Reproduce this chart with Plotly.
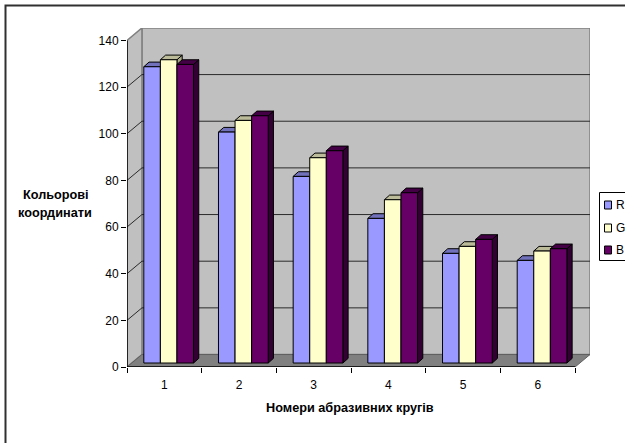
import plotly.graph_objects as go

# Chart data
categories = ["1", "2", "3", "4", "5", "6"]
series_r = [127, 99, 80, 62, 47, 44]
series_g = [130, 104, 88, 70, 50, 48]
series_b = [128, 106, 91, 73, 53, 49]
y_ticks = [0, 20, 40, 60, 80, 100, 120, 140]

# Pseudo-3D geometry, in axis units
DEPTH_X, DEPTH_Y = 0.2, 5.35      # offset of the back wall from the axis plane
BAR_DX, BAR_DY = 0.07, 2.0        # thickness of the bar sides
BASE_X, BASE_Y = 0.225, 1.7       # bar group start and lift above the axis
BAR_W = 0.222
N = len(categories)

L, T, W, H = 127, 28, 463, 339   # plot box in page pixels
px_per_unit = (367.3 - 40.7) / 140
y_top = H / px_per_unit

series = [
    ("R", series_r, "#9999FF", "#7070BB", "#6666AA"),
    ("G", series_g, "#FFFFCC", "#BBBB99", "#AAAA88"),
    ("B", series_b, "#660066", "#440044", "#330033"),
]


def poly(xs, ys, fill, line="#000000", width=1):
    return go.Scatter(x=xs, y=ys, mode="lines", fill="toself", fillcolor=fill,
                      line=dict(color=line, width=width), hoverinfo="skip",
                      showlegend=False)


fig = go.Figure()

# Walls and floor
fig.add_trace(poly([DEPTH_X, N + DEPTH_X, N + DEPTH_X, DEPTH_X, DEPTH_X],
                   [DEPTH_Y, DEPTH_Y, 140 + DEPTH_Y, 140 + DEPTH_Y, DEPTH_Y],
                   "#C0C0C0", "#808080", 1.5))
fig.add_trace(poly([0, DEPTH_X, DEPTH_X, 0, 0],
                   [0, DEPTH_Y, 140 + DEPTH_Y, 140, 0],
                   "#C0C0C0", "#808080", 1.5))
fig.add_trace(poly([0, N, N + DEPTH_X, DEPTH_X, 0],
                   [0, 0, DEPTH_Y, DEPTH_Y, 0],
                   "#808080", "#606060", 1))

# Gridlines run along the left wall and across the back wall
grid_x, grid_y = [], []
for v in y_ticks[1:-1]:
    grid_x += [0, DEPTH_X, N + DEPTH_X, None]
    grid_y += [v, v + DEPTH_Y, v + DEPTH_Y, None]
fig.add_trace(go.Scatter(x=grid_x, y=grid_y, mode="lines", hoverinfo="skip",
                         line=dict(color="#2A2A2A", width=1), showlegend=False))

# Bars are painted series by series so later bars cover earlier sides
for s_idx, (name, values, front, top, side) in enumerate(series):
    fx, fy, tx, ty, sx, sy = [], [], [], [], [], []
    for i, v in enumerate(values):
        x0 = i + BASE_X + s_idx * BAR_W
        x1 = x0 + BAR_W
        y0 = BASE_Y
        y1 = v + BASE_Y
        fx += [x0, x1, x1, x0, x0, None]
        fy += [y0, y0, y1, y1, y0, None]
        tx += [x0, x1, x1 + BAR_DX, x0 + BAR_DX, x0, None]
        ty += [y1, y1, y1 + BAR_DY, y1 + BAR_DY, y1, None]
        sx += [x1, x1 + BAR_DX, x1 + BAR_DX, x1, x1, None]
        sy += [y0, y0 + BAR_DY, y1 + BAR_DY, y1, y0, None]
    fig.add_trace(poly(sx, sy, side))
    fig.add_trace(poly(tx, ty, top))
    fig.add_trace(poly(fx, fy, front))

# Value axis line and the base line of the category axis
fig.add_trace(go.Scatter(x=[0, 0, N], y=[140, 0, 0], mode="lines", hoverinfo="skip",
                         line=dict(color="#000000", width=1.5), showlegend=False,
                         cliponaxis=False))

shapes = [
    # Outer chart frame, open past the page edges on the right and bottom
    dict(type="rect", xref="paper", yref="paper",
         x0=(5.5 - L) / W, x1=(660 - L) / W, y0=(T + H - 470) / H, y1=(T + H - 5.5) / H,
         line=dict(color="#303030", width=2), layer="below"),
    # Legend box
    dict(type="rect", xref="paper", yref="paper",
         x0=(599.5 - L) / W, x1=(660 - L) / W, y0=(T + H - 260.5) / H, y1=(T + H - 192.5) / H,
         line=dict(color="#000000", width=1), fillcolor="#FFFFFF"),
]

annotations = [
    dict(text="<b>Кольорові</b>", xref="paper", yref="paper",
         x=(56 - L) / W, y=(T + H - 195) / H, showarrow=False,
         xanchor="center", yanchor="middle", font=dict(size=12.7)),
    dict(text="<b>координати</b>", xref="paper", yref="paper",
         x=(55 - L) / W, y=(T + H - 213) / H, showarrow=False,
         xanchor="center", yanchor="middle", font=dict(size=12.7)),
    dict(text="<b>Номери абразивних кругів</b>", xref="paper", yref="paper",
         x=(350 - L) / W, y=(T + H - 408) / H, showarrow=False,
         xanchor="center", yanchor="middle", font=dict(size=12.7)),
]

# Legend swatches and labels
for (name, _, front, _, _), cy in zip(series, [205, 228, 250]):
    shapes.append(dict(type="rect", xref="paper", yref="paper",
                       x0=(604.5 - L) / W, x1=(611.5 - L) / W,
                       y0=(T + H - cy - 4) / H, y1=(T + H - cy + 4) / H,
                       fillcolor=front, line=dict(color="#000000", width=1)))
    annotations.append(dict(text=name, xref="paper", yref="paper", xanchor="left",
                            yanchor="middle",
                            x=(614 - L) / W, y=(T + H - cy) / H, showarrow=False,
                            font=dict(size=12)))

fig.update_layout(
    width=625, height=443,
    margin=dict(l=L, r=625 - L - W, t=T, b=443 - T - H, pad=0),
    paper_bgcolor="#FFFFFF", plot_bgcolor="rgba(0,0,0,0)",
    font=dict(family="Liberation Sans, Arial, sans-serif", size=12, color="#000000"),
    showlegend=False, shapes=shapes, annotations=annotations,
)
fig.update_xaxes(range=[0, N + DEPTH_X], showgrid=False, zeroline=False, showline=False,
                 tickmode="array", tickvals=[i + 0.5 for i in range(N)], ticktext=categories,
                 ticks="", ticklabelstandoff=9,
                 minor=dict(ticks="outside", tick0=0, dtick=1, ticklen=5, tickcolor="#000000", showgrid=False))
fig.update_yaxes(range=[0, y_top], showgrid=False, zeroline=False, showline=False,
                 tickmode="array", tickvals=y_ticks, ticks="outside", ticklen=5,
                 tickcolor="#000000", ticklabelstandoff=0)

fig.write_html("out.html")
